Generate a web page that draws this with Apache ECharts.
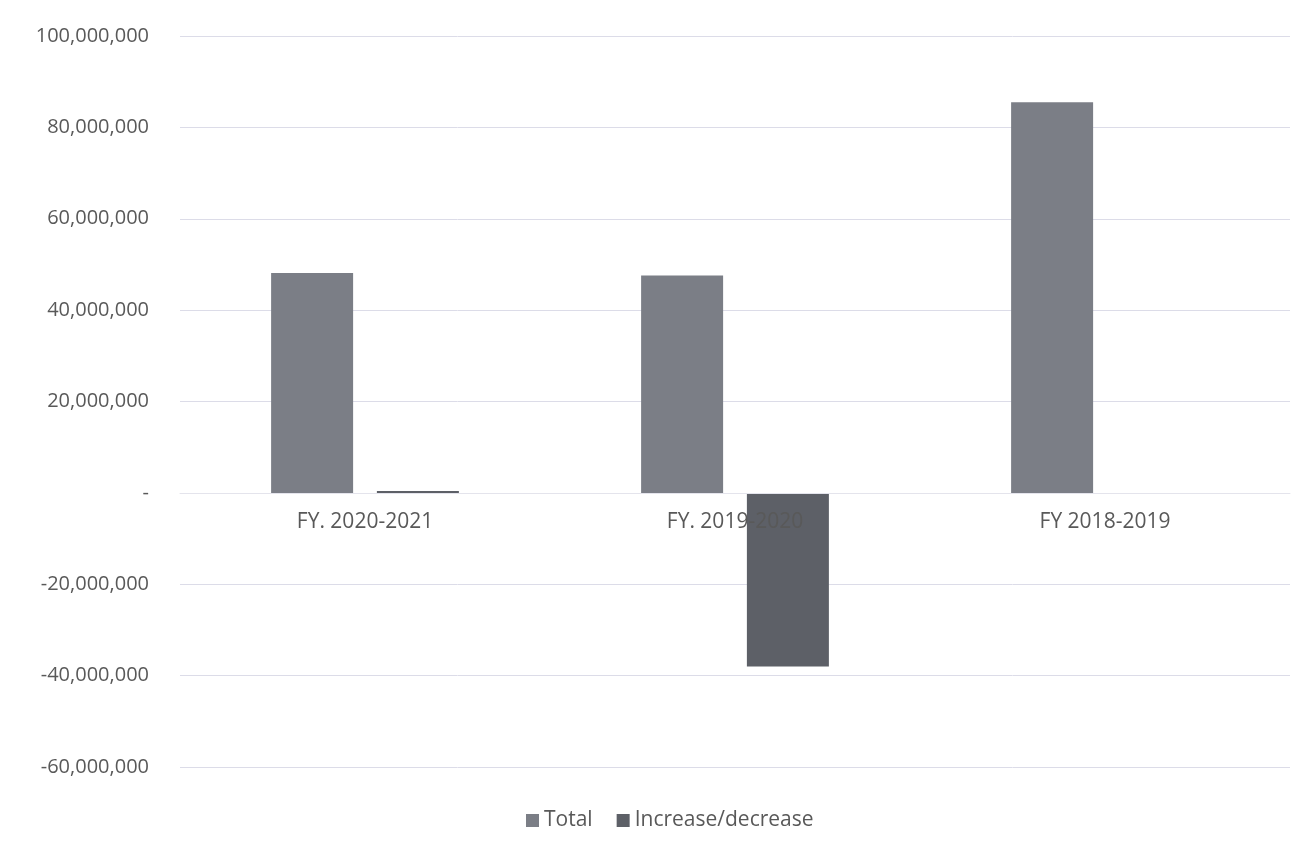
<!DOCTYPE html>
<html>
<head>
<meta charset="utf-8">
<script src="https://cdn.jsdelivr.net/npm/echarts@6/dist/echarts.min.js"></script>
<style>
  html, body { margin: 0; padding: 0; background: #fff; }
  #chart { width: 1308px; height: 849px; }
</style>
</head>
<body>
<div id="chart"></div>
<script>
var categories = ['FY. 2020-2021', 'FY. 2019-2020', 'FY 2018-2019'];
var totalValues = [48100000, 47600000, 85500000];
var changeValues = [400000, -38000000, null];

var yMin = -60000000;
var yMax = 100000000;
var gridTop = 36;
var gridBottom = 82;
var plotHeight = 849 - gridTop - gridBottom;
// shift the category axis up so its labels sit under the zero line
var zeroOffset = plotHeight * (0 - yMin) / (yMax - yMin);

var chart = echarts.init(document.getElementById('chart'));

chart.setOption({
    animation: false,
    textStyle: { fontFamily: 'Open Sans, Lato, sans-serif' },
    grid: { left: 180, right: 18, top: gridTop, bottom: gridBottom },
    legend: {
        bottom: 13,
        left: 521,
        itemWidth: 13,
        itemHeight: 13,
        itemGap: 24,
        icon: 'rect',
        textStyle: { color: '#595959', fontSize: 21 },
        data: ['Total', 'Increase/decrease']
    },
    xAxis: {
        type: 'category',
        data: categories,
        position: 'bottom',
        offset: -zeroOffset,
        z: 10,
        axisLine: { show: true, onZero: false, lineStyle: { color: '#e4e4ec' } },
        axisTick: { show: false },
        axisLabel: { color: '#595959', fontSize: 21, margin: 19 }
    },
    yAxis: {
        type: 'value',
        min: yMin,
        max: yMax,
        interval: 20000000,
        axisLine: { show: false },
        axisTick: { show: false },
        splitLine: { lineStyle: { color: '#dcdce8', width: 1 } },
        axisLabel: {
            color: '#595959',
            fontSize: 20,
            margin: 31,
            formatter: function (v) {
                if (v === 0) { return '-'; }
                return v.toLocaleString('en-US');
            }
        }
    },
    series: [
        {
            name: 'Total',
            type: 'bar',
            data: totalValues,
            barWidth: 82,
            barGap: '29%',
            itemStyle: { color: '#7b7e86' }
        },
        {
            name: 'Increase/decrease',
            type: 'bar',
            data: changeValues,
            barWidth: 82,
            itemStyle: { color: '#5d6067' }
        }
    ]
});
</script>
</body>
</html>
